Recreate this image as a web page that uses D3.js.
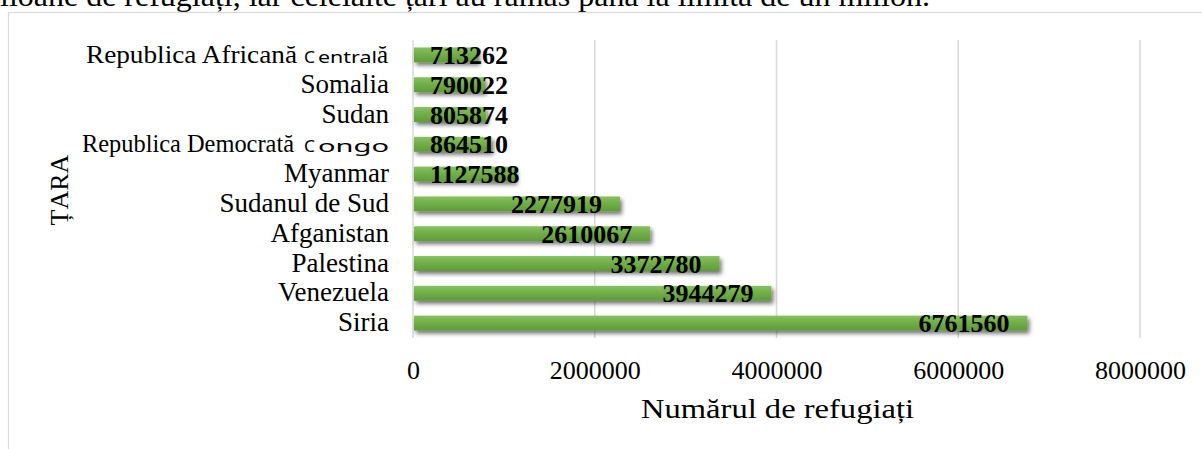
<!DOCTYPE html>
<html><head><meta charset="utf-8">
<script src="https://cdn.jsdelivr.net/npm/d3@7"></script>
<style>html,body{margin:0;padding:0;background:#fff;overflow:hidden}</style>
</head><body>
<svg id="c" width="1202" height="449"></svg>
<script>
const categories = ["Republica Africană Centrală","Somalia","Sudan","Republica Democrată Congo","Myanmar","Sudanul de Sud","Afganistan","Palestina","Venezuela","Siria"];
const values = [713262,790022,805874,864510,1127588,2277919,2610067,3372780,3944279,6761560];
const xTicks = [0,2000000,4000000,6000000,8000000];
const xTitle = "Numărul de refugiați";
const yTitle = "ȚARA";
const topText = "lioane de refugiați, iar celelalte țări au rămas până la limita de un milion.";

const svg = d3.select("#c");
const serif = "'Liberation Serif','Times New Roman',serif";
const sans = "'Noto Sans','DejaVu Sans',sans-serif";

const defs = svg.append("defs");
const g = defs.append("linearGradient").attr("id","bg").attr("x1",0).attr("y1",0).attr("x2",0).attr("y2",1);
g.append("stop").attr("offset","0%").attr("stop-color","#86c260");
g.append("stop").attr("offset","50%").attr("stop-color","#70ad47");
g.append("stop").attr("offset","100%").attr("stop-color","#5f9c39");
const f = defs.append("filter").attr("id","sh").attr("x","-5%").attr("y","-50%").attr("width","115%").attr("height","250%");
f.append("feGaussianBlur").attr("in","SourceAlpha").attr("stdDeviation",2.2);
f.append("feOffset").attr("dx",2).attr("dy",3).attr("result","o");
f.append("feComponentTransfer").append("feFuncA").attr("type","linear").attr("slope",0.55);
const m = f.append("feMerge"); m.append("feMergeNode"); m.append("feMergeNode").attr("in","SourceGraphic");

// top partial text (cut by the top edge as in the reference)
svg.append("text").attr("x",0).attr("y",6).attr("font-family",serif).attr("font-size",30)
  .attr("textLength",930).attr("lengthAdjust","spacingAndGlyphs")
  .attr("fill","#000").text(topText);

// frame
svg.append("rect").attr("x",8.5).attr("y",12.5).attr("width",1300).attr("height",500)
  .attr("fill","none").attr("stroke","#d9d9d9").attr("stroke-width",1.2);

const x = d3.scaleLinear().domain([0,8000000]).range([413,1140]);
const y = d3.scaleBand().domain(categories).range([40,338]).paddingInner(0.5).paddingOuter(0.25);

// gridlines
svg.append("g").selectAll("line").data(xTicks).join("line")
  .attr("x1",d=>x(d)).attr("x2",d=>x(d)).attr("y1",40).attr("y2",338)
  .attr("stroke","#d9d9d9").attr("stroke-width",1.5);

// x axis tick labels
const xa = svg.append("g").attr("transform","translate(0,338)")
  .call(d3.axisBottom(x).tickValues(xTicks).tickFormat(d3.format("d")).tickSize(0).tickPadding(0));
xa.select(".domain").remove();
xa.selectAll("text").attr("font-family",serif).attr("font-size",26).attr("fill","#000").attr("dy",0).attr("y",41);

// bars
svg.append("g").selectAll("rect").data(values).join("rect")
  .attr("x",x(0)+1).attr("y",(d,i)=>y(categories[i]))
  .attr("width",d=>x(d)-x(0)-1).attr("height",y.bandwidth())
  .attr("fill","url(#bg)").attr("filter","url(#sh)");

// value labels
const lab = svg.append("g").selectAll("text").data(values).join("text")
  .attr("font-family",serif).attr("font-weight","bold").attr("font-size",26).attr("fill","#000")
  .attr("y",(d,i)=>y(categories[i])+y.bandwidth()/2+9)
  .text(d=>d);
lab.each(function(d){
  const w = this.getComputedTextLength();
  const right = x(d)-18;
  const left = Math.max(right - w, x(0)+17);
  d3.select(this).attr("x",left);
});

// category labels
const cg = svg.append("g");
categories.forEach(d=>{
  const by = y(d)+y.bandwidth()/2+8;
  const mm = d.match(/^(.*) C(.*?)(ă?)$/);
  if (mm && (d.endsWith("Centrală")||d.endsWith("Congo"))) {
    const x0 = mm[3] ? 86 : 82, x1 = mm[3] ? 297 : 294;
    cg.append("text").attr("x",x0).attr("y",by)
      .attr("textLength",x1-x0).attr("lengthAdjust","spacingAndGlyphs")
      .attr("font-family",serif).attr("font-size",26).text(mm[1]);
    cg.append("text").attr("x",304).attr("y",by).attr("font-family",sans).attr("font-size",17)
      .attr("textLength",11).attr("lengthAdjust","spacingAndGlyphs").text("C");
    const endX = mm[3] ? 377 : 389;
    cg.append("text").attr("x",318).attr("y",by).attr("font-family",sans).attr("font-size",16)
      .attr("textLength",endX-318).attr("lengthAdjust","spacingAndGlyphs").text(mm[2]);
    if (mm[3]) cg.append("text").attr("x",377).attr("y",by).attr("font-family",serif).attr("font-size",25).text(mm[3]);
  } else {
    cg.append("text").attr("x",389).attr("y",by).attr("text-anchor","end")
      .attr("font-family",serif).attr("font-size",27).text(d);
  }
});

// axis titles
svg.append("text").attr("x",641).attr("y",418)
  .attr("textLength",273).attr("lengthAdjust","spacingAndGlyphs")
  .attr("font-family",serif).attr("font-size",27).attr("fill","#000").text(xTitle);
svg.append("text").attr("transform","translate(68,190) rotate(-90)").attr("text-anchor","middle")
  .attr("font-family",serif).attr("font-size",26).attr("fill","#000").text(yTitle);
</script>
</body></html>
